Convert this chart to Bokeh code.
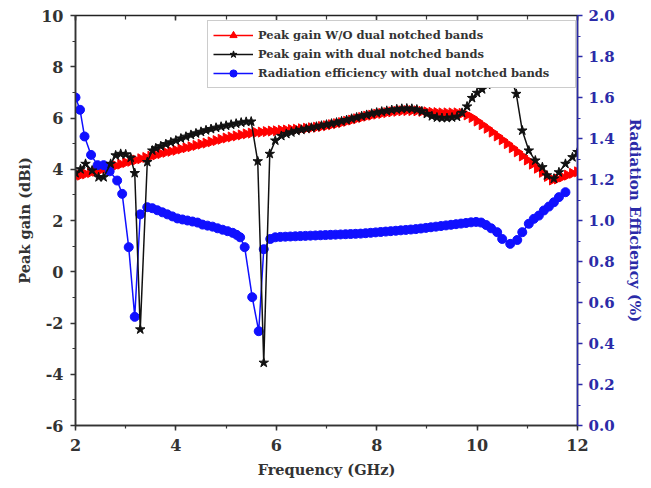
import math
from bokeh.plotting import figure
from bokeh.models import (Range1d, LinearAxis, Legend, LegendItem,
                          SingleIntervalTicker, PrintfTickFormatter)
from bokeh.embed import file_html
from bokeh.resources import INLINE

# ---------------- data ----------------
freq_wo = [2.0, 2.1, 2.2, 2.3, 2.4, 2.5, 2.6, 2.7, 2.8, 2.9,
           3.0, 3.1, 3.2, 3.3, 3.4, 3.5, 3.6, 3.7, 3.8, 3.9,
           4.0, 4.1, 4.2, 4.3, 4.4, 4.5, 4.6, 4.7, 4.8, 4.9,
           5.0, 5.1, 5.2, 5.3, 5.4, 5.5, 5.6, 5.7, 5.8, 5.9,
           6.0, 6.1, 6.2, 6.3, 6.4, 6.5, 6.6, 6.7, 6.8, 6.9,
           7.0, 7.1, 7.2, 7.3, 7.4, 7.5, 7.6, 7.7, 7.8, 7.9,
           8.0, 8.1, 8.2, 8.3, 8.4, 8.5, 8.6, 8.7, 8.8, 8.9,
           9.0, 9.1, 9.2, 9.3, 9.4, 9.5, 9.6, 9.7, 9.8, 9.9,
           10.0, 10.1, 10.2, 10.3, 10.4, 10.5, 10.6, 10.7, 10.8, 10.9,
           11.0, 11.1, 11.2, 11.3, 11.4, 11.5, 11.6, 11.7, 11.8, 11.9, 12.0]
gain_wo = [3.72, 3.77, 3.82, 3.87, 3.92, 3.97, 4.03, 4.08, 4.14, 4.20,
           4.26, 4.31, 4.36, 4.41, 4.46, 4.51, 4.56, 4.61, 4.66, 4.70,
           4.74, 4.79, 4.84, 4.88, 4.93, 4.98, 5.02, 5.07, 5.12, 5.17,
           5.22, 5.26, 5.30, 5.34, 5.38, 5.41, 5.43, 5.45, 5.47, 5.49,
           5.50, 5.52, 5.53, 5.55, 5.56, 5.58, 5.60, 5.62, 5.64, 5.67,
           5.70, 5.74, 5.78, 5.82, 5.87, 5.92, 5.97, 6.02, 6.07, 6.11,
           6.15, 6.18, 6.21, 6.24, 6.26, 6.28, 6.29, 6.29, 6.28, 6.26,
           6.24, 6.22, 6.21, 6.20, 6.20, 6.20, 6.20, 6.18, 6.12, 6.02,
           5.88, 5.74, 5.60, 5.45, 5.30, 5.15, 5.00, 4.84, 4.68, 4.52,
           4.36, 4.20, 4.04, 3.88, 3.72, 3.58, 3.62, 3.70, 3.77, 3.84, 3.90]

freq_notch = [2.0, 2.1, 2.2, 2.33, 2.46, 2.56, 2.7, 2.8, 2.9, 3.0,
              3.1, 3.18, 3.29, 3.43, 3.53, 3.6, 3.7, 3.8, 3.9, 4.0,
              4.1, 4.2, 4.3, 4.4, 4.5, 4.6, 4.7, 4.8, 4.9, 5.0,
              5.1, 5.2, 5.3, 5.4, 5.5, 5.63, 5.75, 5.87, 5.98, 6.1,
              6.2, 6.3, 6.4, 6.5, 6.6, 6.7, 6.8, 6.9, 7.0, 7.1,
              7.2, 7.3, 7.4, 7.5, 7.6, 7.7, 7.8, 7.9, 8.0, 8.1,
              8.2, 8.3, 8.4, 8.5, 8.6, 8.7, 8.8, 8.9, 9.0, 9.1,
              9.2, 9.3, 9.4, 9.5, 9.6, 9.7, 9.8, 9.9, 10.0, 10.1,
              10.2, 10.3, 10.4, 10.5, 10.6, 10.7, 10.78, 10.9, 11.03, 11.16,
              11.3, 11.39, 11.53, 11.63, 11.76, 11.9, 12.0]
gain_notch = [3.85, 4.00, 4.21, 3.95, 3.69, 3.69, 4.21, 4.54, 4.60, 4.58,
              4.45, 3.85, -2.25, 4.28, 4.73, 4.82, 4.90, 4.98, 5.05, 5.12,
              5.20, 5.27, 5.34, 5.40, 5.46, 5.52, 5.57, 5.62, 5.66, 5.70,
              5.74, 5.78, 5.82, 5.85, 5.86, 4.31, -3.55, 4.60, 5.12, 5.30,
              5.38, 5.44, 5.50, 5.54, 5.58, 5.62, 5.66, 5.70, 5.74, 5.78,
              5.82, 5.87, 5.92, 5.97, 6.02, 6.07, 6.12, 6.17, 6.21, 6.25,
              6.28, 6.31, 6.34, 6.36, 6.37, 6.36, 6.33, 6.26, 6.16, 6.07,
              6.02, 6.00, 6.00, 6.02, 6.05, 6.20, 6.45, 6.78, 6.98, 7.12,
              7.30, 7.45, 7.60, 7.70, 7.65, 7.45, 6.94, 5.51, 4.73, 4.34,
              4.08, 3.76, 3.63, 3.88, 4.21, 4.47, 4.67]

freq_eff = [2.0, 2.09, 2.18, 2.31, 2.44, 2.56, 2.68, 2.83, 2.93, 3.06,
            3.18, 3.29, 3.43, 3.53, 3.63, 3.73, 3.83, 3.93, 4.03, 4.13,
            4.23, 4.33, 4.43, 4.53, 4.63, 4.73, 4.83, 4.93, 5.03, 5.13,
            5.21, 5.28, 5.37, 5.52, 5.65, 5.75, 5.88, 5.98, 6.08, 6.18,
            6.28, 6.38, 6.48, 6.58, 6.68, 6.78, 6.88, 6.98, 7.08, 7.18,
            7.28, 7.38, 7.48, 7.58, 7.68, 7.78, 7.88, 7.98, 8.08, 8.18,
            8.28, 8.38, 8.48, 8.58, 8.68, 8.78, 8.88, 8.98, 9.08, 9.18,
            9.28, 9.38, 9.48, 9.58, 9.68, 9.78, 9.88, 9.98, 10.08, 10.18,
            10.28, 10.4, 10.5, 10.66, 10.8, 10.9, 11.03, 11.13, 11.23, 11.33,
            11.43, 11.53, 11.63, 11.76]
efficiency = [1.60, 1.54, 1.41, 1.32, 1.27, 1.27, 1.24, 1.195, 1.13, 0.87,
              0.53, 1.03, 1.065, 1.06, 1.05, 1.04, 1.03, 1.02, 1.01, 1.005,
              1.00, 0.995, 0.99, 0.98, 0.975, 0.97, 0.962, 0.955, 0.948, 0.94,
              0.93, 0.918, 0.87, 0.626, 0.46, 0.86, 0.91, 0.918, 0.92, 0.921,
              0.922, 0.923, 0.924, 0.925, 0.926, 0.927, 0.928, 0.929, 0.930, 0.931,
              0.932, 0.933, 0.934, 0.935, 0.936, 0.938, 0.940, 0.942, 0.944, 0.946,
              0.948, 0.950, 0.952, 0.954, 0.956, 0.958, 0.961, 0.964, 0.967, 0.970,
              0.973, 0.976, 0.979, 0.982, 0.985, 0.988, 0.991, 0.993, 0.99, 0.978,
              0.962, 0.943, 0.91, 0.886, 0.905, 0.943, 0.984, 1.008, 1.024, 1.049,
              1.068, 1.089, 1.114, 1.138]

x_label = "Frequency (GHz)"
left_label = "Peak gain (dBi)"
right_label = "Radiation Efficiency (%)"
legend_labels = ["Peak gain W/O dual notched bands",
                 "Peak gain with dual notched bands",
                 "Radiation efficiency with dual notched bands"]

# ---------------- styling ----------------
FONT = "DejaVu Serif"
AX_COL = "#333333"
BLUE_AX = "#2b2ba8"
RED = "#ff0000"
BLUE = "#1010ff"
BLACK = "#111111"

p = figure(width=651, height=488, output_backend="svg", toolbar_location=None,
           x_range=Range1d(2, 12), y_range=Range1d(-6, 10),
           min_border_left=75, min_border_right=74, min_border_top=15,
           min_border_bottom=63, x_axis_location=None, y_axis_location=None)
p.extra_y_ranges = {"eff": Range1d(0, 2)}
p.grid.visible = False
p.outline_line_color = "#222222"
p.outline_line_width = 1.5
p.background_fill_color = "white"
p.border_fill_color = "white"

def style(ax, color=AX_COL):
    ax.axis_line_color = color
    ax.axis_line_width = 1.5
    ax.major_tick_line_color = color
    ax.minor_tick_line_color = color
    ax.major_tick_line_width = 1.5
    ax.minor_tick_line_width = 1.2
    ax.major_tick_out = 5
    ax.major_tick_in = 0
    ax.minor_tick_out = 3
    ax.minor_tick_in = 0
    ax.major_label_text_font = FONT
    ax.major_label_text_font_style = "bold"
    ax.major_label_text_font_size = "16px"
    ax.major_label_text_color = color
    ax.axis_label_text_font = FONT
    ax.axis_label_text_font_style = "bold"
    ax.axis_label_text_font_size = "14.5px"
    ax.axis_label_text_color = color

xb = LinearAxis(ticker=SingleIntervalTicker(interval=2, num_minor_ticks=2),
                axis_label=x_label)
style(xb)
xb.major_label_standoff = 8
xb.axis_label_standoff = 7
p.add_layout(xb, "below")

xt = LinearAxis(ticker=SingleIntervalTicker(interval=2, num_minor_ticks=2))
style(xt)
xt.major_tick_in = 5
xt.major_tick_out = 0
xt.minor_tick_in = 4
xt.minor_tick_out = 0
xt.major_label_overrides = {2: "", 4: "", 6: "", 8: "", 10: "", 12: ""}
xt.major_label_standoff = 0
xt.axis_line_color = None
p.add_layout(xt, "above")

yl = LinearAxis(ticker=SingleIntervalTicker(interval=2, num_minor_ticks=2),
                axis_label=left_label, formatter=PrintfTickFormatter(format="%d"))
style(yl)
yl.major_label_standoff = 7
yl.axis_label_standoff = 5
p.add_layout(yl, "left")

yr = LinearAxis(y_range_name="eff",
                ticker=SingleIntervalTicker(interval=0.2, num_minor_ticks=2),
                axis_label=right_label, formatter=PrintfTickFormatter(format="%.1f"))
style(yr, BLUE_AX)
yr.major_label_text_font_size = "15px"
yr.axis_label_text_font_size = "15px"
yr.major_label_standoff = 6
yr.axis_label_standoff = 8
p.add_layout(yr, "right")

# ---------------- series ----------------
r_red_l = p.line(freq_wo, gain_wo, line_color=RED, line_width=1.5)
r_red_m = p.scatter(freq_wo, gain_wo, marker="triangle", size=10, angle=-math.pi / 2,
                    fill_color=RED, line_color=RED)
r_blue_l = p.line(freq_eff, efficiency, y_range_name="eff",
                  line_color=BLUE, line_width=1.5)
r_blue_m = p.scatter(freq_eff, efficiency, y_range_name="eff", marker="circle",
                     size=9, fill_color=BLUE, line_color=BLUE)
r_blk_l = p.line(freq_notch, gain_notch, line_color=BLACK, line_width=1.5)
r_blk_m = p.scatter(freq_notch, gain_notch, marker="star", size=10,
                    fill_color=BLACK, line_color=BLACK)

legend = Legend(items=[
    LegendItem(label=legend_labels[0], renderers=[r_red_l, r_red_m]),
    LegendItem(label=legend_labels[1], renderers=[r_blk_l, r_blk_m]),
    LegendItem(label=legend_labels[2], renderers=[r_blue_l, r_blue_m]),
], location=(132, 337))
legend.padding = 5
legend.margin = 0
legend.spacing = 1
legend.glyph_width = 40
legend.glyph_height = 18
legend.label_height = 18
legend.label_width = 312
legend.label_standoff = 5
legend.label_text_font = FONT
legend.label_text_font_style = "bold"
legend.label_text_font_size = "11.5px"
legend.label_text_color = "#333333"
legend.border_line_color = "#999999"
legend.border_line_width = 1.5
legend.background_fill_color = "white"
legend.background_fill_alpha = 1.0
p.add_layout(legend, "center")

open("out.html", "w").write(file_html(p, INLINE))
